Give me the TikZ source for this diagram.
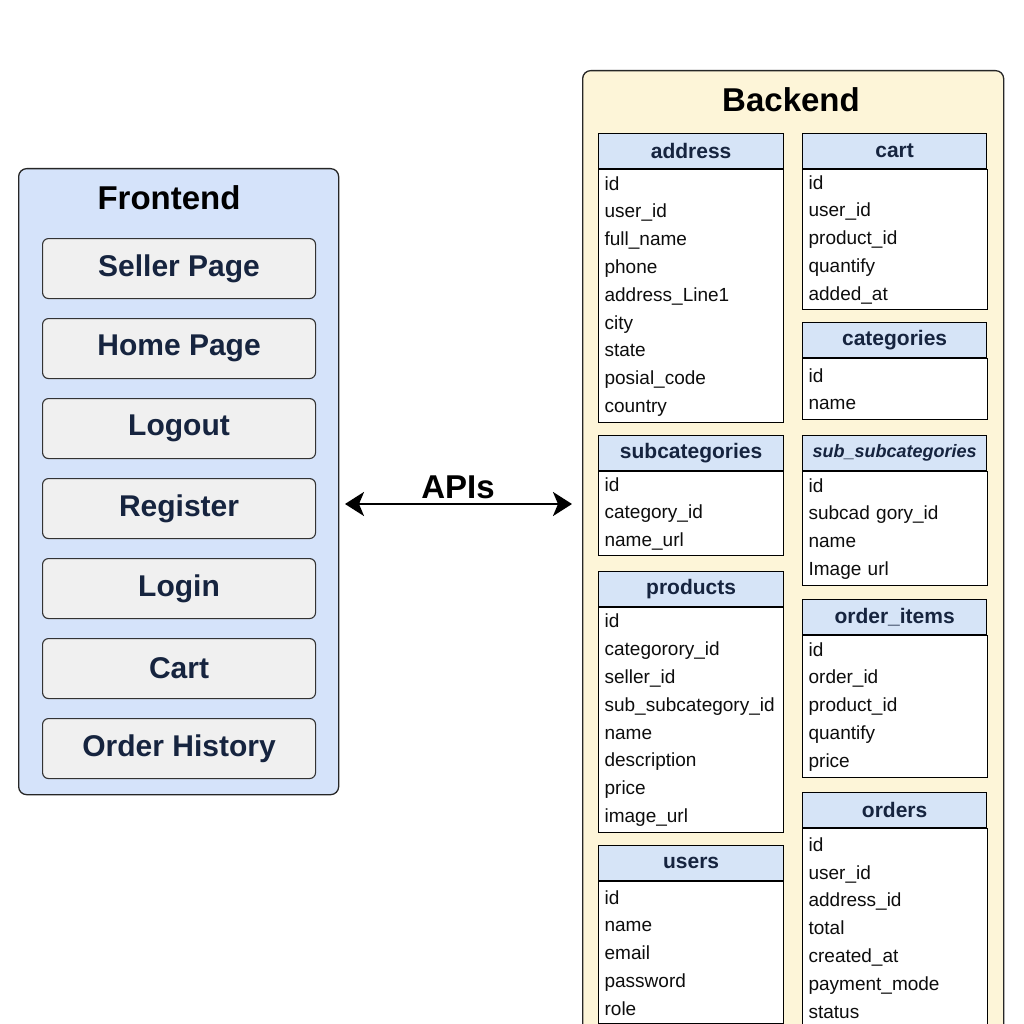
\documentclass[tikz,border=0pt]{standalone}
\usepackage{fontspec}
\setmainfont{Liberation Sans}
\usetikzlibrary{arrows.meta}
\definecolor{feBlue}{HTML}{D5E3FA}
\definecolor{beYellow}{HTML}{FDF5D8}
\definecolor{btnGray}{HTML}{F0F0F0}
\definecolor{headBlue}{HTML}{D6E4F7}
\definecolor{navyText}{HTML}{16243F}
\tikzstyle{panel}=[shape = rectangle, rounded corners = 8pt, draw = black!85, line width = 1.3pt, anchor = north west, inner sep = 0pt]
\tikzstyle{panelTitle}=[font = \fontsize{33}{36}\selectfont\bfseries, text = black]
\tikzstyle{button}=[shape = rectangle, rounded corners = 6pt, draw = black!80, line width = 1.1pt, fill = btnGray, minimum width = 273pt, minimum height = 60pt, font = \fontsize{30}{32}\selectfont\bfseries, text = navyText, anchor = north west]
\tikzstyle{tableHead}=[shape = rectangle, draw = black, line width = 1.2pt, fill = headBlue, minimum width = 185pt, minimum height = 35pt, inner sep = 0pt, font = \fontsize{21}{23}\selectfont\bfseries, text = navyText, anchor = north west]
\tikzstyle{tableBody}=[shape = rectangle, draw = black, line width = 1.2pt, fill = white, inner xsep = 6pt, inner ysep = 0pt, text width = 173pt, align = left, font = \fontsize{19}{27.8}\selectfont, text = black!95, anchor = north west]

\begin{document}
\begin{tikzpicture}[x = 1pt, y = -1pt]
\tikzstyle{apiLink}=[{Stealth[length=19pt, width=24pt, inset=5pt]}-{Stealth[length=19pt, width=24pt, inset=5pt]}, line width = 2.4pt]
\useasboundingbox[fill = white] (0,0) rectangle (1024,1024);
% frontend
\node[panel, fill = feBlue, minimum width = 320pt, minimum height = 626pt] (fe) at (18,168) {};
\node[panelTitle] (feTitle) at (169,198) {Frontend};
\node[button] (sellerBtn) at (42,238) {Seller Page};
\node[button] (homeBtn) at (42,318) {Home Page};
\node[button] (logoutBtn) at (42,398) {Logout};
\node[button] (registerBtn) at (42,478) {Register};
\node[button] (loginBtn) at (42,558) {Login};
\node[button] (cartBtn) at (42,638) {Cart};
\node[button] (historyBtn) at (42,718) {Order History};
% backend
\node[panel, fill = beYellow, minimum width = 421pt, minimum height = 990pt] (be) at (582,70) {};
\node[panelTitle] (beTitle) at (791,100) {Backend};
% left column of tables
\node[tableHead] (addressHead) at (598,133) {address};
\node[tableBody, minimum height = 253pt] (addressBody) at (addressHead.south west) {id\\user\_id\\full\_name\\phone\\address\_Line1\\city\\state\\posial\_code\\country};
\node[tableHead] (subcatHead) at (598,435) {subcategories};
\node[tableBody, minimum height = 84pt] (subcatBody) at (subcatHead.south west) {id\\category\_id\\name\_url};
\node[tableHead] (productsHead) at (598,571) {products};
\node[tableBody, minimum height = 225pt] (productsBody) at (productsHead.south west) {id\\categorory\_id\\seller\_id\\sub\_subcategory\_id\\name\\description\\price\\image\_url};
\node[tableHead] (usersHead) at (598,845) {users};
\node[tableBody, minimum height = 142pt] (usersBody) at (usersHead.south west) {id\\name\\email\\password\\role};
% right column of tables
\node[tableHead, minimum width = 184pt] (cartHead) at (802,133) {cart};
\node[tableBody, minimum height = 140pt] (cartBody) at (cartHead.south west) {id\\user\_id\\product\_id\\quantify\\added\_at};
\node[tableHead, minimum width = 184pt] (catHead) at (802,322) {categories};
\node[tableBody, minimum height = 61pt] (catBody) at (catHead.south west) {id\\name};
\node[tableHead, minimum width = 184pt, font = \fontsize{18}{20}\selectfont\bfseries\itshape] (subsubHead) at (802,435) {sub\_subcategories};
\node[tableBody, minimum height = 114pt] (subsubBody) at (subsubHead.south west) {id\\subcad gory\_id\\name\\Image url};
\node[tableHead, minimum width = 184pt] (itemsHead) at (802,599) {order\_items};
\node[tableBody, minimum height = 142pt] (itemsBody) at (itemsHead.south west) {id\\order\_id\\product\_id\\quantify\\price};
\node[tableHead, minimum width = 184pt] (ordersHead) at (802,792) {orders};
\node[tableBody, minimum height = 198pt] (ordersBody) at (ordersHead.south west) {id\\user\_id\\address\_id\\total\\created\_at\\payment\_mode\\status};
% link
\coordinate (apiL) at (345,504);
\coordinate (apiR) at (572,504);
\draw[apiLink] (apiL) -- (apiR);
\node[font = \fontsize{33}{36}\selectfont\bfseries] (apiLabel) at (458,487) {APIs};
\end{tikzpicture}
\end{document}
